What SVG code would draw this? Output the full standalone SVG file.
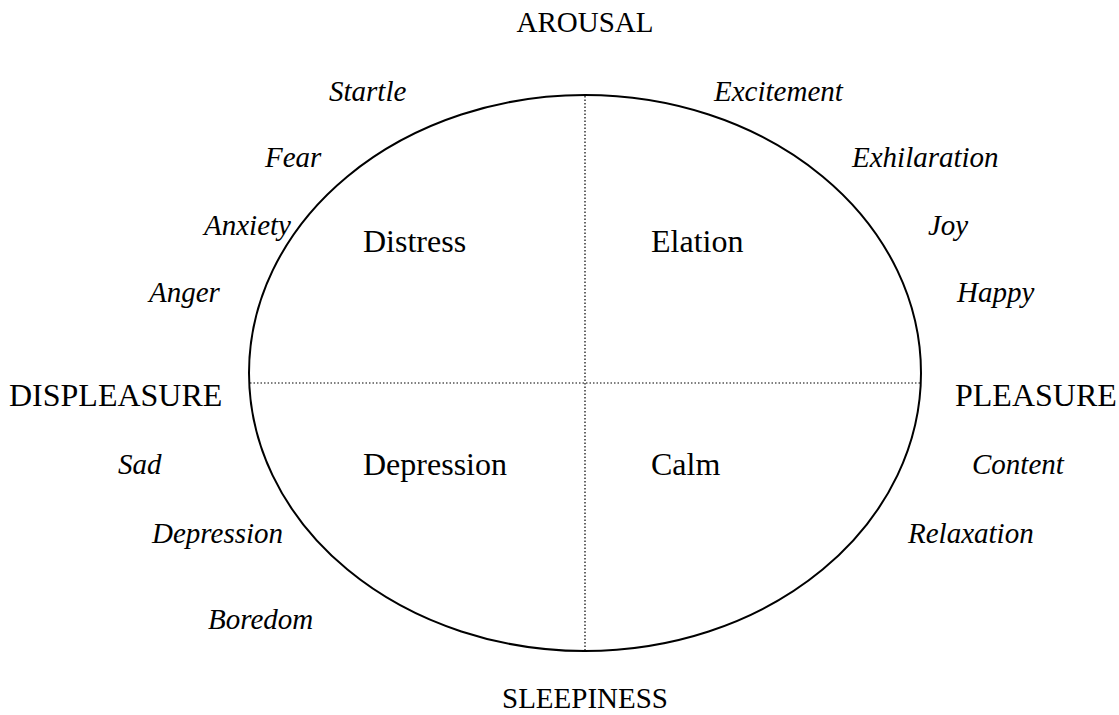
<svg xmlns="http://www.w3.org/2000/svg" width="1119" height="715" viewBox="0 0 1119 715">
<style>
text{font-family:"Liberation Serif","Times New Roman",serif;fill:#000}
.ax{font-size:29px}
.sd{font-size:32px}
.q{font-size:32px}
.em{font-size:29px;font-style:italic}
.dot{stroke:#000;stroke-width:1.2;stroke-dasharray:1.5 2;fill:none}
</style>
<rect width="1119" height="715" fill="#fff"/>
<g id="circumplex">
<ellipse cx="585" cy="373" rx="336" ry="278" fill="none" stroke="#000" stroke-width="2"/>
</g>
<g id="axes">
<line class="dot" x1="585" y1="96" x2="585" y2="650"/>
<line class="dot" x1="250" y1="383" x2="920" y2="383"/>
</g>
<g id="axis-labels">
<text id="arousal" class="ax" x="585" y="32" text-anchor="middle">AROUSAL</text>
<text id="sleepiness" class="ax" x="585" y="708" text-anchor="middle">SLEEPINESS</text>
<text id="displeasure" class="sd" x="9" y="406">DISPLEASURE</text>
<text id="pleasure" class="sd" x="955" y="406">PLEASURE</text>
</g>
<g id="quadrants">
<text id="q-distress" class="q" x="363" y="252">Distress</text>
<text id="q-elation" class="q" x="651" y="252">Elation</text>
<text id="q-depression" class="q" x="363" y="475">Depression</text>
<text id="q-calm" class="q" x="651" y="475">Calm</text>
</g>
<g id="emotions">
<text class="em" x="329" y="101">Startle</text>
<text class="em" x="714" y="101">Excitement</text>
<text class="em" x="265" y="167">Fear</text>
<text class="em" x="852" y="167">Exhilaration</text>
<text class="em" x="204" y="235">Anxiety</text>
<text class="em" x="928" y="235">Joy</text>
<text class="em" x="149" y="302">Anger</text>
<text class="em" x="957" y="302">Happy</text>
<text class="em" x="118" y="474">Sad</text>
<text class="em" x="972" y="474">Content</text>
<text class="em" x="152" y="543">Depression</text>
<text class="em" x="908" y="543">Relaxation</text>
<text class="em" x="208" y="629">Boredom</text>
</g>
</svg>
